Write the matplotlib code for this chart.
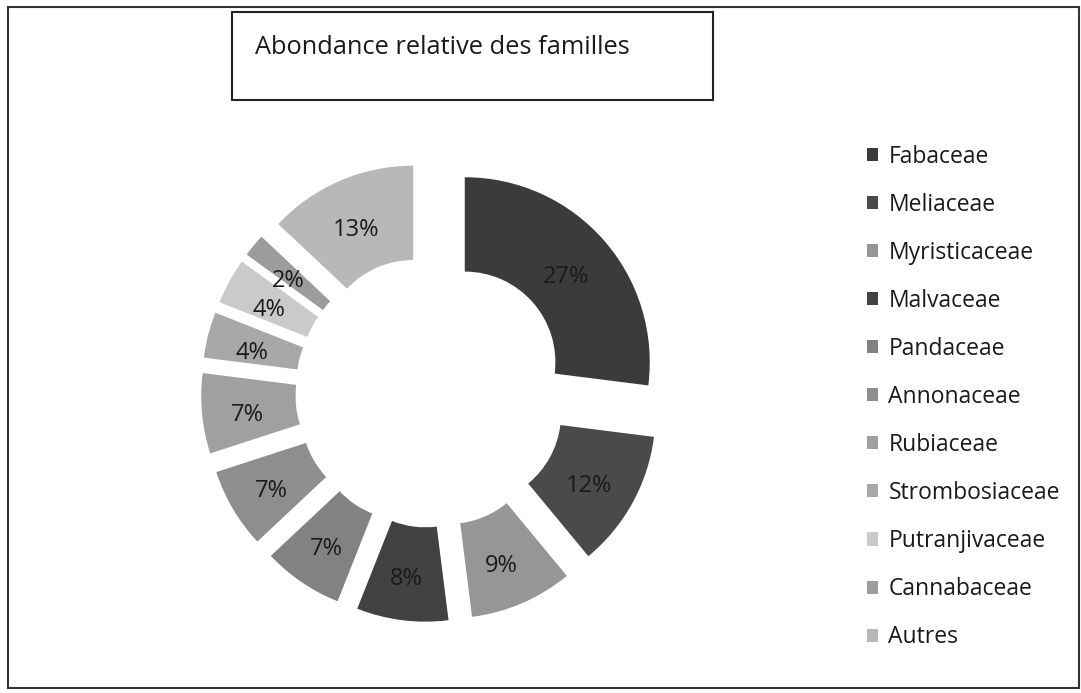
import matplotlib.pyplot as plt
from matplotlib.patches import Rectangle

plt.rcParams['font.family'] = ['Open Sans', 'DejaVu Sans']

familles = ['Fabaceae', 'Meliaceae', 'Myristicaceae', 'Malvaceae', 'Pandaceae',
            'Annonaceae', 'Rubiaceae', 'Strombosiaceae', 'Putranjivaceae',
            'Cannabaceae', 'Autres']
pourcentages = [27, 12, 9, 8, 7, 7, 7, 4, 4, 2, 13]
couleurs = ['#3b3b3b', '#4a4a4a', '#969696', '#424242', '#828282', '#8e8e8e',
            '#a0a0a0', '#a8a8a8', '#cacaca', '#9c9c9c', '#b8b8b8']

W, H = 1081, 693
fig = plt.figure(figsize=(W / 100, H / 100), dpi=100)
ax = fig.add_axes([0, 0, 1, 1])
ax.set_xlim(0, W)
ax.set_ylim(0, H)
ax.set_aspect('equal')
ax.axis('off')

# cadre extérieur
ax.add_patch(Rectangle((8, H - 688), W - 10, 681, fill=False, lw=1.5, ec='#333333'))

# cadre du titre
ax.add_patch(Rectangle((232, H - 100), 481, 88, fill=False, lw=1.5, ec='#222222'))
ax.text(255, H - 47, 'Abondance relative des familles', fontsize=18.3,
        va='center', ha='left', color='#1a1a1a')

# anneau : explode est en unités de données (pixels ici)
R = 185
wedges, _, autotexts = ax.pie(
    pourcentages, colors=couleurs, startangle=90, counterclock=False,
    center=(431, H - 392), radius=R, explode=[45] * len(pourcentages),
    wedgeprops=dict(width=R * 0.51, edgecolor='none'),
    autopct='%d%%', pctdistance=0.745,
    textprops=dict(fontsize=17, color='#1a1a1a'))
for t in autotexts:
    x, y = t.get_position()
    t.set_position((x - 2, y - 6))
ax.set_xlim(0, W)
ax.set_ylim(0, H)

ax.legend(wedges, familles, loc='upper left', bbox_to_anchor=(846 / W, 1 - 124 / H),
          frameon=False, fontsize=16.5, handlelength=0.5, handleheight=0.5,
          handletextpad=0.45, labelspacing=1.05, labelcolor='#1a1a1a')

fig.savefig('out.png', dpi=100)
